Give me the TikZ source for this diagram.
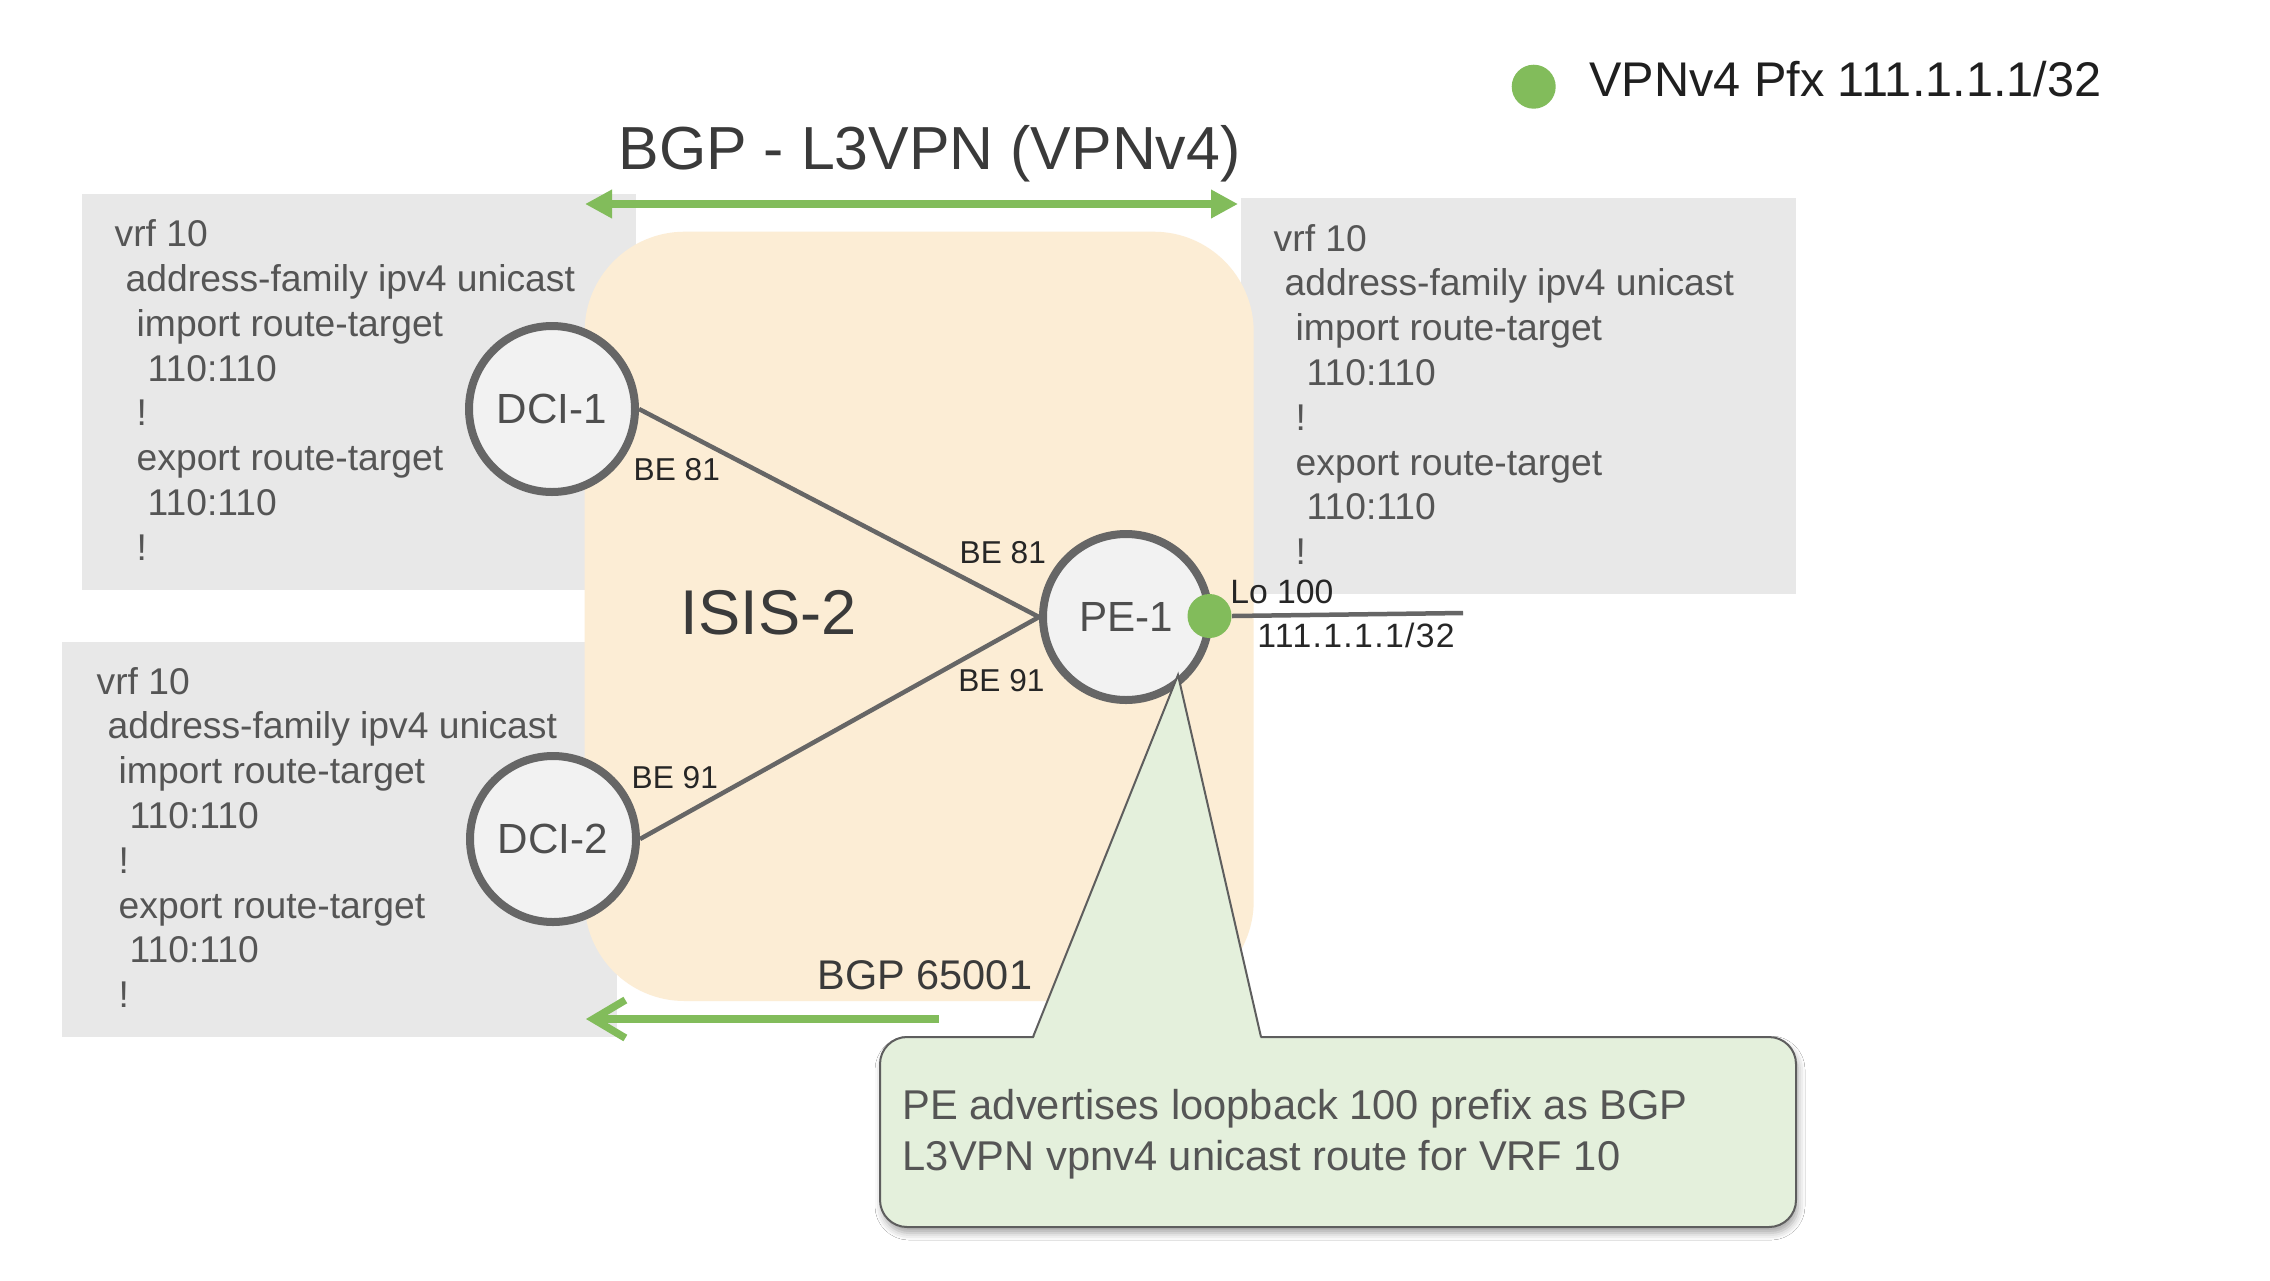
\documentclass[tikz,border=0pt]{standalone}
\usepackage{fontspec}
\setmainfont{Liberation Sans}
\usetikzlibrary{arrows.meta,shadows.blur}
\definecolor{grn}{HTML}{82BC5B}
\definecolor{graybox}{HTML}{E8E8E8}
\definecolor{orng}{HTML}{FCEDD5}
\definecolor{circfill}{HTML}{F2F2F2}
\definecolor{circline}{HTML}{666666}
\definecolor{cfgtext}{HTML}{555555}
\definecolor{calfill}{HTML}{E4F0DC}
\definecolor{calline}{HTML}{5E5E5E}
\definecolor{darktxt}{HTML}{3A3A3A}
\newcommand\cfgblock[3]{%
  \foreach \ind/\txt [count=\i] in {0/vrf 10,1/address-family ipv4 unicast,2/import route-target,3/110:110,2/!,2/export route-target,3/110:110,2/!}{
    \node[cfg] (#1\i) at ({#2+\ind*11},{#3+(\i-1)*44.8}) {\txt};
  }%
}
\begin{document}
\begin{tikzpicture}[x=0.1mm,y=-0.1mm,
  cfg/.style={anchor=base west, inner sep=0pt, text=cfgtext, font=\fontsize{10.6}{12}\selectfont},
  router/.style={circle, draw=circline, fill=circfill, line width=0.8mm, minimum size=16.6mm, inner sep=0pt, text=darktxt!90, font=\fontsize{12}{14}\selectfont},
  lbl/.style={anchor=base west, inner sep=0pt, text=black!85, font=\fontsize{9}{11}\selectfont},
  link/.style={draw=circline, line width=0.45mm},
  cfgbox/.style={fill=graybox},
  txt/.style={anchor=base west, inner sep=0pt},
  calloutbox/.style={draw=calline, fill=calfill, line width=0.2mm, rounded corners=2.7mm, minimum width=91.6mm, minimum height=19mm, inner sep=0pt,
     blur shadow={shadow xshift=0.2mm, shadow yshift=-0.6mm, shadow blur radius=0.7mm, shadow opacity=35}},
  dot/.style={circle, fill=grn, minimum size=4.4mm, inner sep=0pt}
]
\useasboundingbox (0,0) rectangle (2270,1280);
\fill[white] (0,0) rectangle (2270,1280);

% config boxes
\fill[cfgbox] (82,193.7) rectangle (636,590);
\fill[cfgbox] (1241,198) rectangle (1796,594);
\fill[cfgbox] (61.7,642) rectangle (617.3,1037.3);

% ISIS area
\fill[orng, rounded corners=10mm] (584.6,231.7) rectangle (1253.7,1001);

% config text
\cfgblock{cfgA}{114}{246.7}
\cfgblock{cfgB}{1273}{251}
\cfgblock{cfgC}{96}{694}

% title and BGP arrow
\node[txt, text=darktxt, font=\fontsize{17.3}{20}\selectfont] (title) at (618,169) {BGP - L3VPN (VPNv4)};
\coordinate (bgpL) at (585,204);
\coordinate (bgpR) at (1238,204);
\draw[grn, line width=0.8mm, {Triangle[length=2.7mm,width=2.7mm]}-{Triangle[length=2.7mm,width=2.7mm]}] (bgpL) -- (bgpR);

% legend
\node[dot] (legdot) at (1533.7,86.7) {};
\node[txt, text=black!88, font=\fontsize{13.85}{16}\selectfont] (legtxt) at (1588.4,96) {VPNv4 Pfx 111.1.1.1/32};

% routers and links
\coordinate (loend) at (1463,613);
\node[router] (dci1) at (552,409) {DCI-1};
\node[router] (dci2) at (553,839) {DCI-2};
\node[router] (pe) at (1126,617) {PE-1};
\draw[link] (dci1.east) -- (pe.west);
\draw[link] (dci2.east) -- (pe.west);
\node[dot] (lo) at (1209.5,616) {};
\draw[circline, line width=0.45mm] (lo.east) -- (loend);

% labels
\node[lbl] (be81a) at (633,480) {BE 81};
\node[lbl] (be81b) at (959,563) {BE 81};
\node[lbl] (be91a) at (957.6,691.7) {BE 91};
\node[lbl] (be91b) at (631,788.3) {BE 91};
\node[lbl, font=\fontsize{9.6}{11}\selectfont] (lolbl) at (1229.6,603) {Lo 100};
\node[lbl, font=\fontsize{9.6}{11}\addfontfeature{LetterSpace=4}\selectfont] (loip) at (1256.6,647) {111.1.1.1/32};
\node[txt, text=darktxt, font=\fontsize{18}{21}\selectfont] (isis) at (680,634) {ISIS-2};
\node[txt, text=darktxt, font=\fontsize{11.8}{14}\selectfont] (asn) at (817,989.3) {BGP 65001};

% AS arrow
\coordinate (asS) at (938.6,1019);
\coordinate (asE) at (586,1019);
\draw[grn, line width=0.75mm, -{Straight Barb[length=3.2mm,width=3.8mm]}] (asS) -- (asE);

% callout
\node[calloutbox] (cbox) at (1338,1132) {};
\coordinate (ptip) at (1178,675);
\coordinate (pbl) at (1033,1037);
\coordinate (pbr) at (1261,1037);
\fill[calfill] ([yshift=-0.3mm]pbl) -- (ptip) -- ([yshift=-0.3mm]pbr) -- cycle;
\draw[calline, line width=0.2mm, line join=miter] (pbl) -- (ptip) -- (pbr);
\node[txt, text=cfgtext, font=\fontsize{11.85}{14}\selectfont] (ctxt1) at (902,1119.6) {PE advertises loopback 100 prefix as BGP};
\node[txt, text=cfgtext, font=\fontsize{11.85}{14}\selectfont] (ctxt2) at (902,1170.8) {L3VPN vpnv4 unicast route for VRF 10};
\end{tikzpicture}
\end{document}
